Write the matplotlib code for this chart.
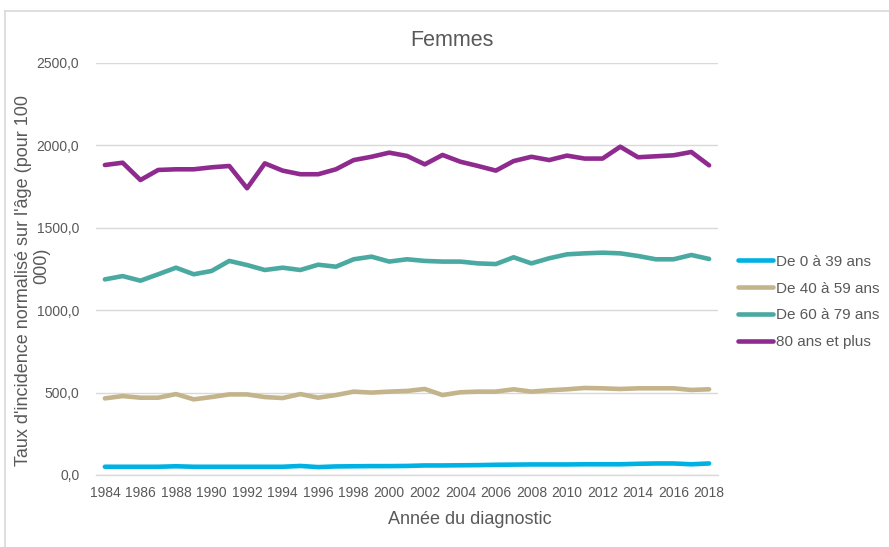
import matplotlib
matplotlib.use("Agg")
import matplotlib.pyplot as plt
from matplotlib.lines import Line2D
from matplotlib.ticker import FuncFormatter

plt.rcParams['font.family'] = ['Liberation Sans', 'DejaVu Sans']

# Femmes - taux d'incidence par tranche d'age
years = list(range(1984, 2019))

age_0_39 = [50, 50, 50, 50, 53, 50, 50, 50, 50, 50, 50, 55, 48, 52, 53, 54, 54, 55,
            58, 58, 59, 60, 62, 63, 64, 64, 64, 65, 65, 65, 68, 70, 70, 65, 70]
age_40_59 = [465, 479, 469, 469, 491, 459, 473, 489, 489, 473, 467, 491, 469, 485, 506, 500, 506, 510,
             522, 485, 502, 506, 506, 520, 506, 514, 520, 528, 526, 522, 526, 526, 526, 516, 520]
age_60_79 = [1187, 1207, 1179, 1218, 1258, 1218, 1238, 1299, 1274, 1244, 1258, 1244, 1276, 1264, 1309, 1325, 1295, 1309,
             1299, 1295, 1295, 1284, 1280, 1321, 1284, 1315, 1339, 1345, 1349, 1345, 1329, 1309, 1309, 1335, 1311]
age_80_plus = [1881, 1895, 1790, 1851, 1855, 1855, 1867, 1875, 1740, 1891, 1847, 1825, 1825, 1855, 1911, 1931, 1956, 1936,
               1885, 1942, 1901, 1875, 1847, 1905, 1931, 1911, 1938, 1920, 1920, 1992, 1928, 1934, 1940, 1960, 1879]

labels = ["De 0 à 39 ans", "De 40 à 59 ans", "De 60 à 79 ans", "80 ans et plus"]
colors = ["#00b1e3", "#c4b48c", "#4aa9a0", "#8f2b8f"]

W, H = 889, 547
fig = plt.figure(figsize=(W / 100, H / 100), dpi=100)
ax = fig.add_axes([96 / W, 1 - 475 / H, (718 - 96) / W, (475 - 63) / H])

for vals, lab, col in zip([age_0_39, age_40_59, age_60_79, age_80_plus], labels, colors):
    ax.plot(years, vals, color=col, lw=3.3, label=lab, solid_capstyle='round', solid_joinstyle='round')

ax.set_xlim(1983.5, 2018.5)
ax.set_ylim(0, 2500)
ax.set_xticks(years[::2])
ax.set_yticks([0, 500, 1000, 1500, 2000, 2500])
ax.yaxis.set_major_formatter(FuncFormatter(lambda v, p: f"{v:.1f}".replace(".", ",")))
ax.grid(axis='y', color='#d9d9d9', lw=1)
ax.set_axisbelow(True)
for s in ['top', 'right', 'left']:
    ax.spines[s].set_visible(False)
ax.spines['bottom'].set_color('#d9d9d9')
ax.spines['bottom'].set_linewidth(1)
ax.tick_params(axis='both', length=0, colors='#595959', labelsize=10)
ax.tick_params(axis='y', pad=12)
ax.tick_params(axis='x', pad=8)

fig.text(452 / W, 1 - 40 / H, "Femmes", ha='center', va='center', fontsize=15.5, color='#595959')
fig.text(470 / W, 1 - 520 / H, "Année du diagnostic", ha='center', va='center', fontsize=13, color='#595959')
# titre de l'axe y coupe sur deux lignes comme dans Excel
fig.text(24 / W, 1 - 281 / H, "Taux d'incidence normalisé sur l'âge (pour 100", rotation=90,
         ha='center', va='center', fontsize=13, color='#595959')
fig.text(42 / W, 1 - 266 / H, "000)", rotation=90,
         ha='center', va='center', fontsize=13, color='#595959')

ax.legend(loc='center left', bbox_to_anchor=(738 / W, 1 - 302 / H), bbox_transform=fig.transFigure,
          frameon=False, fontsize=11, labelcolor='#595959', handlelength=2.3, handletextpad=0.2,
          labelspacing=0.84, borderpad=0, borderaxespad=0)

# cadre du graphique (haut et gauche)
fig.add_artist(Line2D([5 / W, 1], [1 - 11 / H, 1 - 11 / H], transform=fig.transFigure, color='#d9d9d9', lw=1.2))
fig.add_artist(Line2D([5 / W, 5 / W], [0, 1 - 11 / H], transform=fig.transFigure, color='#d9d9d9', lw=1.2))

fig.savefig("out.png", dpi=100)
